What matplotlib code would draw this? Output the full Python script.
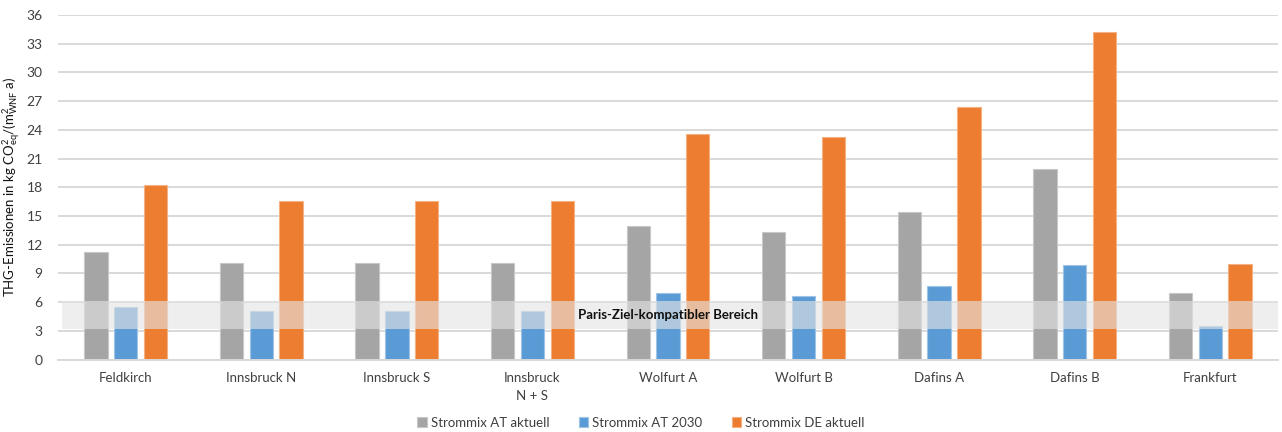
import matplotlib.pyplot as plt
import numpy as np

plt.rcParams['font.family'] = ['Lato', 'DejaVu Sans']
plt.rcParams['mathtext.fontset'] = 'custom'
plt.rcParams['mathtext.rm'] = 'Lato'
plt.rcParams['mathtext.it'] = 'Lato:italic'

categories = ['Feldkirch', 'Innsbruck N', 'Innsbruck S', 'Innsbruck\nN + S', 'Wolfurt A',
              'Wolfurt B', 'Dafins A', 'Dafins B', 'Frankfurt']
at_aktuell = [11.2, 10.1, 10.1, 10.1, 13.9, 13.3, 15.4, 19.9, 6.9]
at_2030 = [5.5, 5.1, 5.1, 5.1, 6.9, 6.6, 7.7, 9.9, 3.5]
de_aktuell = [18.2, 16.6, 16.6, 16.6, 23.6, 23.3, 26.4, 34.2, 10.0]
series_names = ['Strommix AT aktuell', 'Strommix AT 2030', 'Strommix DE aktuell']
paris_band = (3.2, 6.1)
paris_label = 'Paris-Ziel-kompatibler Bereich'

colors = ['#A5A5A5', '#5B9BD5', '#ED7D31']
edges = ['#C8C8C8', '#9DC3E6', '#F4B183']

fig = plt.figure(figsize=(12.82, 4.32), dpi=100)
ax = fig.add_axes([0.0452, 0.1678, 0.9517, 0.7975])

x = np.arange(len(categories))
step = 0.22
width = 0.172
for i, (vals, name) in enumerate(zip([at_aktuell, at_2030, de_aktuell], series_names)):
    ax.bar(x + (i - 1) * step, vals, width, color=colors[i], edgecolor=edges[i],
           linewidth=0.8, label=name, zorder=2)

# shaded paris band drawn over the bars
ax.axhspan(paris_band[0], paris_band[1], xmin=0.003, xmax=1.0, color='#E4E4E4',
           alpha=0.62, lw=0, zorder=3)
ax.text(4, (paris_band[0] + paris_band[1]) / 2 + 0.05, paris_label, ha='center', va='center',
        fontsize=9.5, fontweight='bold', color='#111111', zorder=4)

ax.set_xlim(-0.5, len(categories) - 0.5)
ax.set_ylim(0, 36)
ax.set_yticks(np.arange(0, 37, 3))
ax.set_xticks(x)
ax.set_xticklabels(categories, fontsize=9.5, color='#404040', linespacing=1.6)
ax.tick_params(axis='y', labelsize=10, colors='#404040', length=0, pad=11)
ax.tick_params(axis='x', length=0, pad=9)
ax.grid(axis='y', color='#D9D9D9', linewidth=1.4, zorder=0)
ax.set_axisbelow(True)
for s in ['top', 'right', 'left']:
    ax.spines[s].set_visible(False)
ax.spines['bottom'].set_color('#D9D9D9')
ax.spines['bottom'].set_linewidth(1.4)

ax.set_ylabel(r'THG-Emissionen in kg CO$^{2}_{\mathrm{eq}}$/(m$^{2}_{\mathrm{WNF}}$ a)',
              fontsize=9.5, color='#111111', va='center')
ax.yaxis.set_label_coords(-0.0375, 0.5)

fig.legend(loc='center', bbox_to_anchor=(0.5, 0.021), ncol=3, frameon=False,
           fontsize=9.5, handlelength=0.75, handleheight=0.75, handletextpad=0.3,
           columnspacing=2.2, labelcolor='#404040')

fig.savefig('out.png', dpi=100)
